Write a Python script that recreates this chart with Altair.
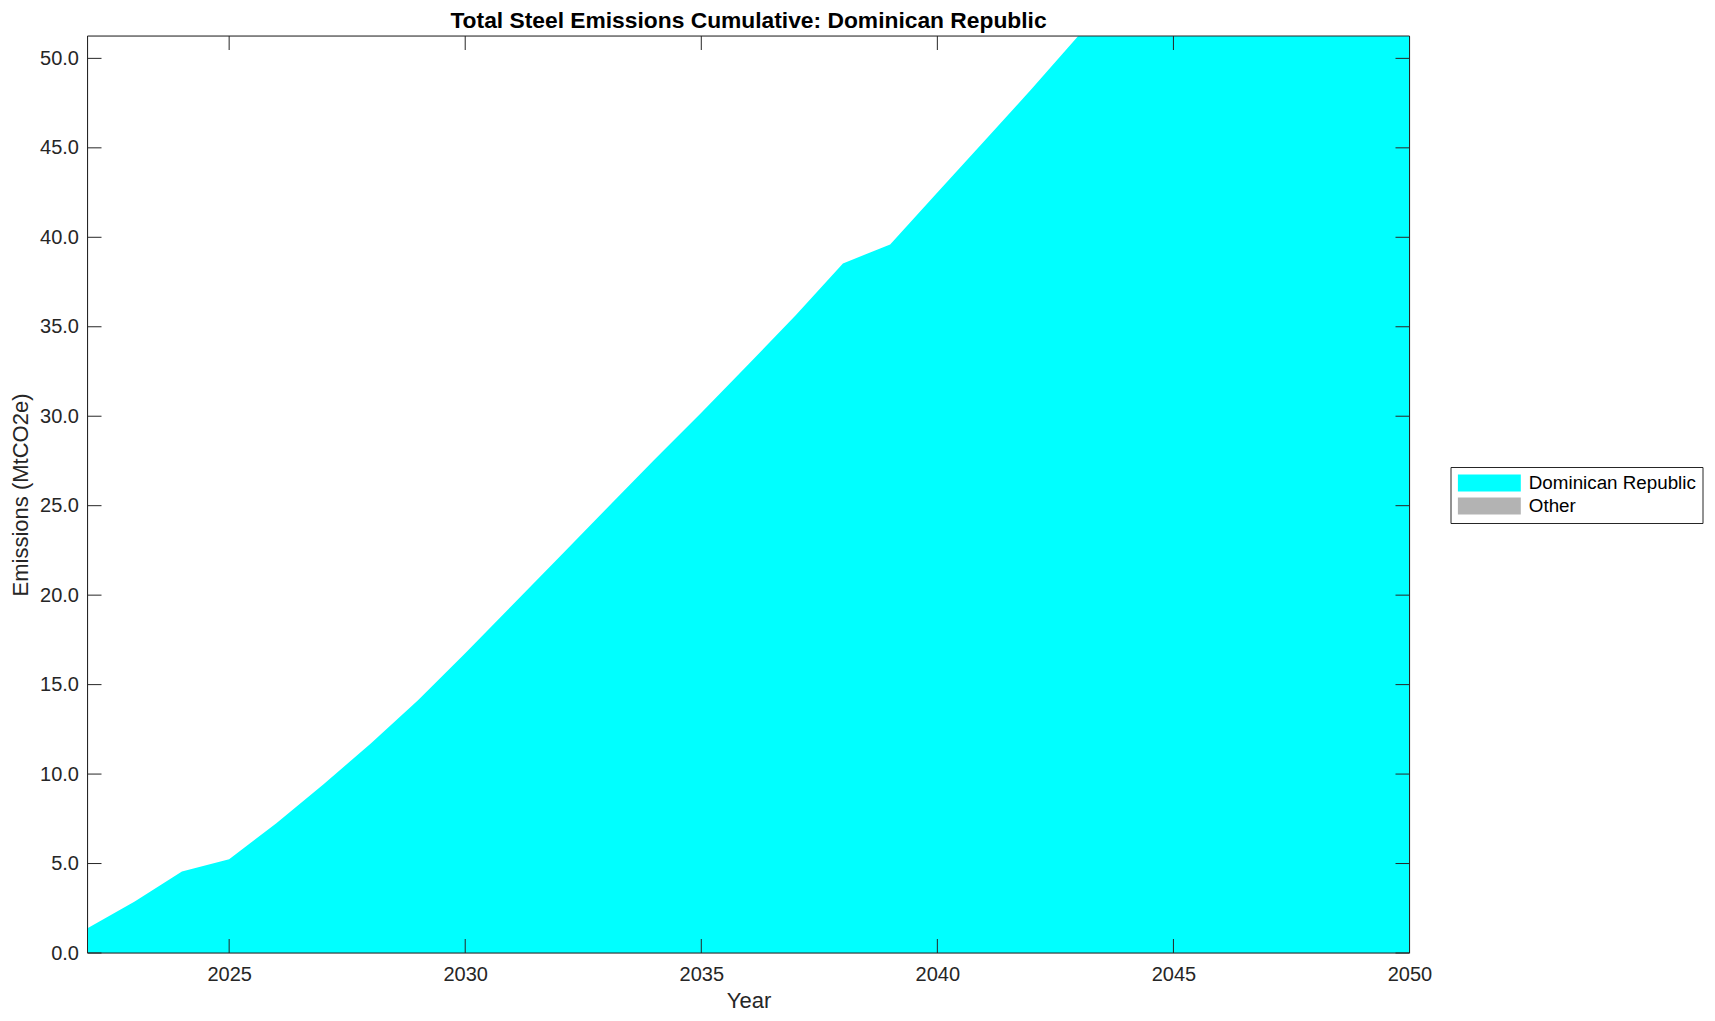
import altair as alt
import pandas as pd

# ---- data ----
years = [2022, 2023, 2024, 2025, 2026, 2027, 2028, 2029, 2030, 2031, 2032, 2033, 2034, 2035,
         2036, 2037, 2038, 2039, 2040, 2041, 2042, 2043, 2044, 2045, 2046, 2047, 2048, 2049, 2050]
dominican_republic = [1.39, 2.88, 4.56, 5.24, 7.25, 9.43, 11.71, 14.13, 16.75, 19.45, 22.15, 24.85,
                      27.55, 30.2, 32.9, 35.65, 38.54, 39.6, 42.5, 45.4, 48.3, 51.3, 54.1, 57.0,
                      59.9, 62.8, 65.7, 68.6, 71.5]
other = [0.0, 0.0, 0.0, 0.0, 0.0, 0.0, 0.0, 0.0, 0.0, 0.0, 0.0, 0.0, 0.0, 0.0, 0.0,
         0.0, 0.0, 0.0, 0.0, 0.0, 0.0, 0.0, 0.0, 0.0, 0.0, 0.0, 0.0, 0.0, 0.0]
series_names = ["Dominican Republic", "Other"]
series_colors = ["#00ffff", "#b3b3b3"]
x_tick_values = [2025, 2030, 2035, 2040, 2045, 2050]
y_tick_values = [0, 5, 10, 15, 20, 25, 30, 35, 40, 45, 50]
x_domain = [2022, 2050]
y_domain = [0, 51.25]

W, H = 1322, 917
TICK = 14
FONT = "Liberation Sans"
AX = "#262626"

rows = []
for i, y in enumerate(years):
    rows.append({"year": y, "series": series_names[0], "value": dominican_republic[i], "ord": 0})
    rows.append({"year": y, "series": series_names[1], "value": other[i], "ord": 1})
df = pd.DataFrame(rows)

xs = alt.Scale(domain=x_domain, nice=False, zero=False)
ys = alt.Scale(domain=y_domain, nice=False, zero=True)

# legend swatch: 63 x 17 rectangle, symbol size gives 17px height (r = 8.5)
swatch_path = "M-1,-1H6.4V1H-1Z"

area = alt.Chart(df).mark_area(clip=True, interpolate="linear").encode(
    x=alt.X("year:Q", scale=xs,
            axis=alt.Axis(values=x_tick_values, format="d", ticks=False, domain=False, grid=False,
                          labelFontSize=20, labelFont=FONT, labelColor=AX, labelPadding=11,
                          title="Year", titleFontSize=22, titleFont=FONT, titleFontWeight="normal",
                          titleColor=AX, titlePadding=6, labelFlush=False)),
    y=alt.Y("value:Q", scale=ys, stack="zero",
            axis=alt.Axis(values=y_tick_values, format=".1f", ticks=False, domain=False, grid=False,
                          labelFontSize=20, labelFont=FONT, labelColor=AX, labelPadding=9,
                          title="Emissions (MtCO2e)", titleFontSize=22, titleFont=FONT,
                          titleFontWeight="normal", titleColor=AX, titlePadding=7)),
    color=alt.Color("series:N", scale=alt.Scale(domain=series_names, range=series_colors),
                    legend=alt.Legend(title=None, orient="none", legendX=1363, legendY=431,
                                      labelFontSize=18.8, labelFont=FONT, labelColor="black",
                                      labelLimit=400,
                                      symbolType=swatch_path, symbolSize=289,
                                      symbolStrokeWidth=0, symbolOpacity=1,
                                      padding=6.5, strokeColor=AX, fillColor="white",
                                      rowPadding=3, labelOffset=53)),
    order=alt.Order("ord:Q"),
)

xt = pd.DataFrame({"t": x_tick_values})
yt = pd.DataFrame({"t": y_tick_values})

xticks_bottom = alt.Chart(xt).mark_rule(color=AX, strokeWidth=1).encode(
    x=alt.X("t:Q", scale=xs), y=alt.value(H), y2=alt.value(H - TICK))
xticks_top = alt.Chart(xt).mark_rule(color=AX, strokeWidth=1).encode(
    x=alt.X("t:Q", scale=xs), y=alt.value(0), y2=alt.value(TICK))
yticks_left = alt.Chart(yt).mark_rule(color=AX, strokeWidth=1).encode(
    y=alt.Y("t:Q", scale=ys), x=alt.value(0), x2=alt.value(TICK))
yticks_right = alt.Chart(yt).mark_rule(color=AX, strokeWidth=1).encode(
    y=alt.Y("t:Q", scale=ys), x=alt.value(W - TICK), x2=alt.value(W))

frame = alt.Chart(pd.DataFrame({"a": [0]})).mark_rect(filled=False, stroke=AX, strokeWidth=1).encode(
    x=alt.value(0), x2=alt.value(W), y=alt.value(0), y2=alt.value(H))

chart = alt.layer(area, xticks_bottom, xticks_top, yticks_left, yticks_right, frame).properties(
    width=W, height=H,
    title=alt.TitleParams("Total Steel Emissions Cumulative: Dominican Republic",
                          fontSize=22.8, font=FONT, fontWeight="bold", color="black",
                          anchor="middle", offset=3),
    autosize=alt.AutoSizeParams(type="none"),
    padding={"left": 79.5, "top": 28, "right": 297, "bottom": 58},
).configure_view(stroke=None).configure(background="white")

chart.save("out.html", embed_options={"renderer": "svg", "actions": False})
